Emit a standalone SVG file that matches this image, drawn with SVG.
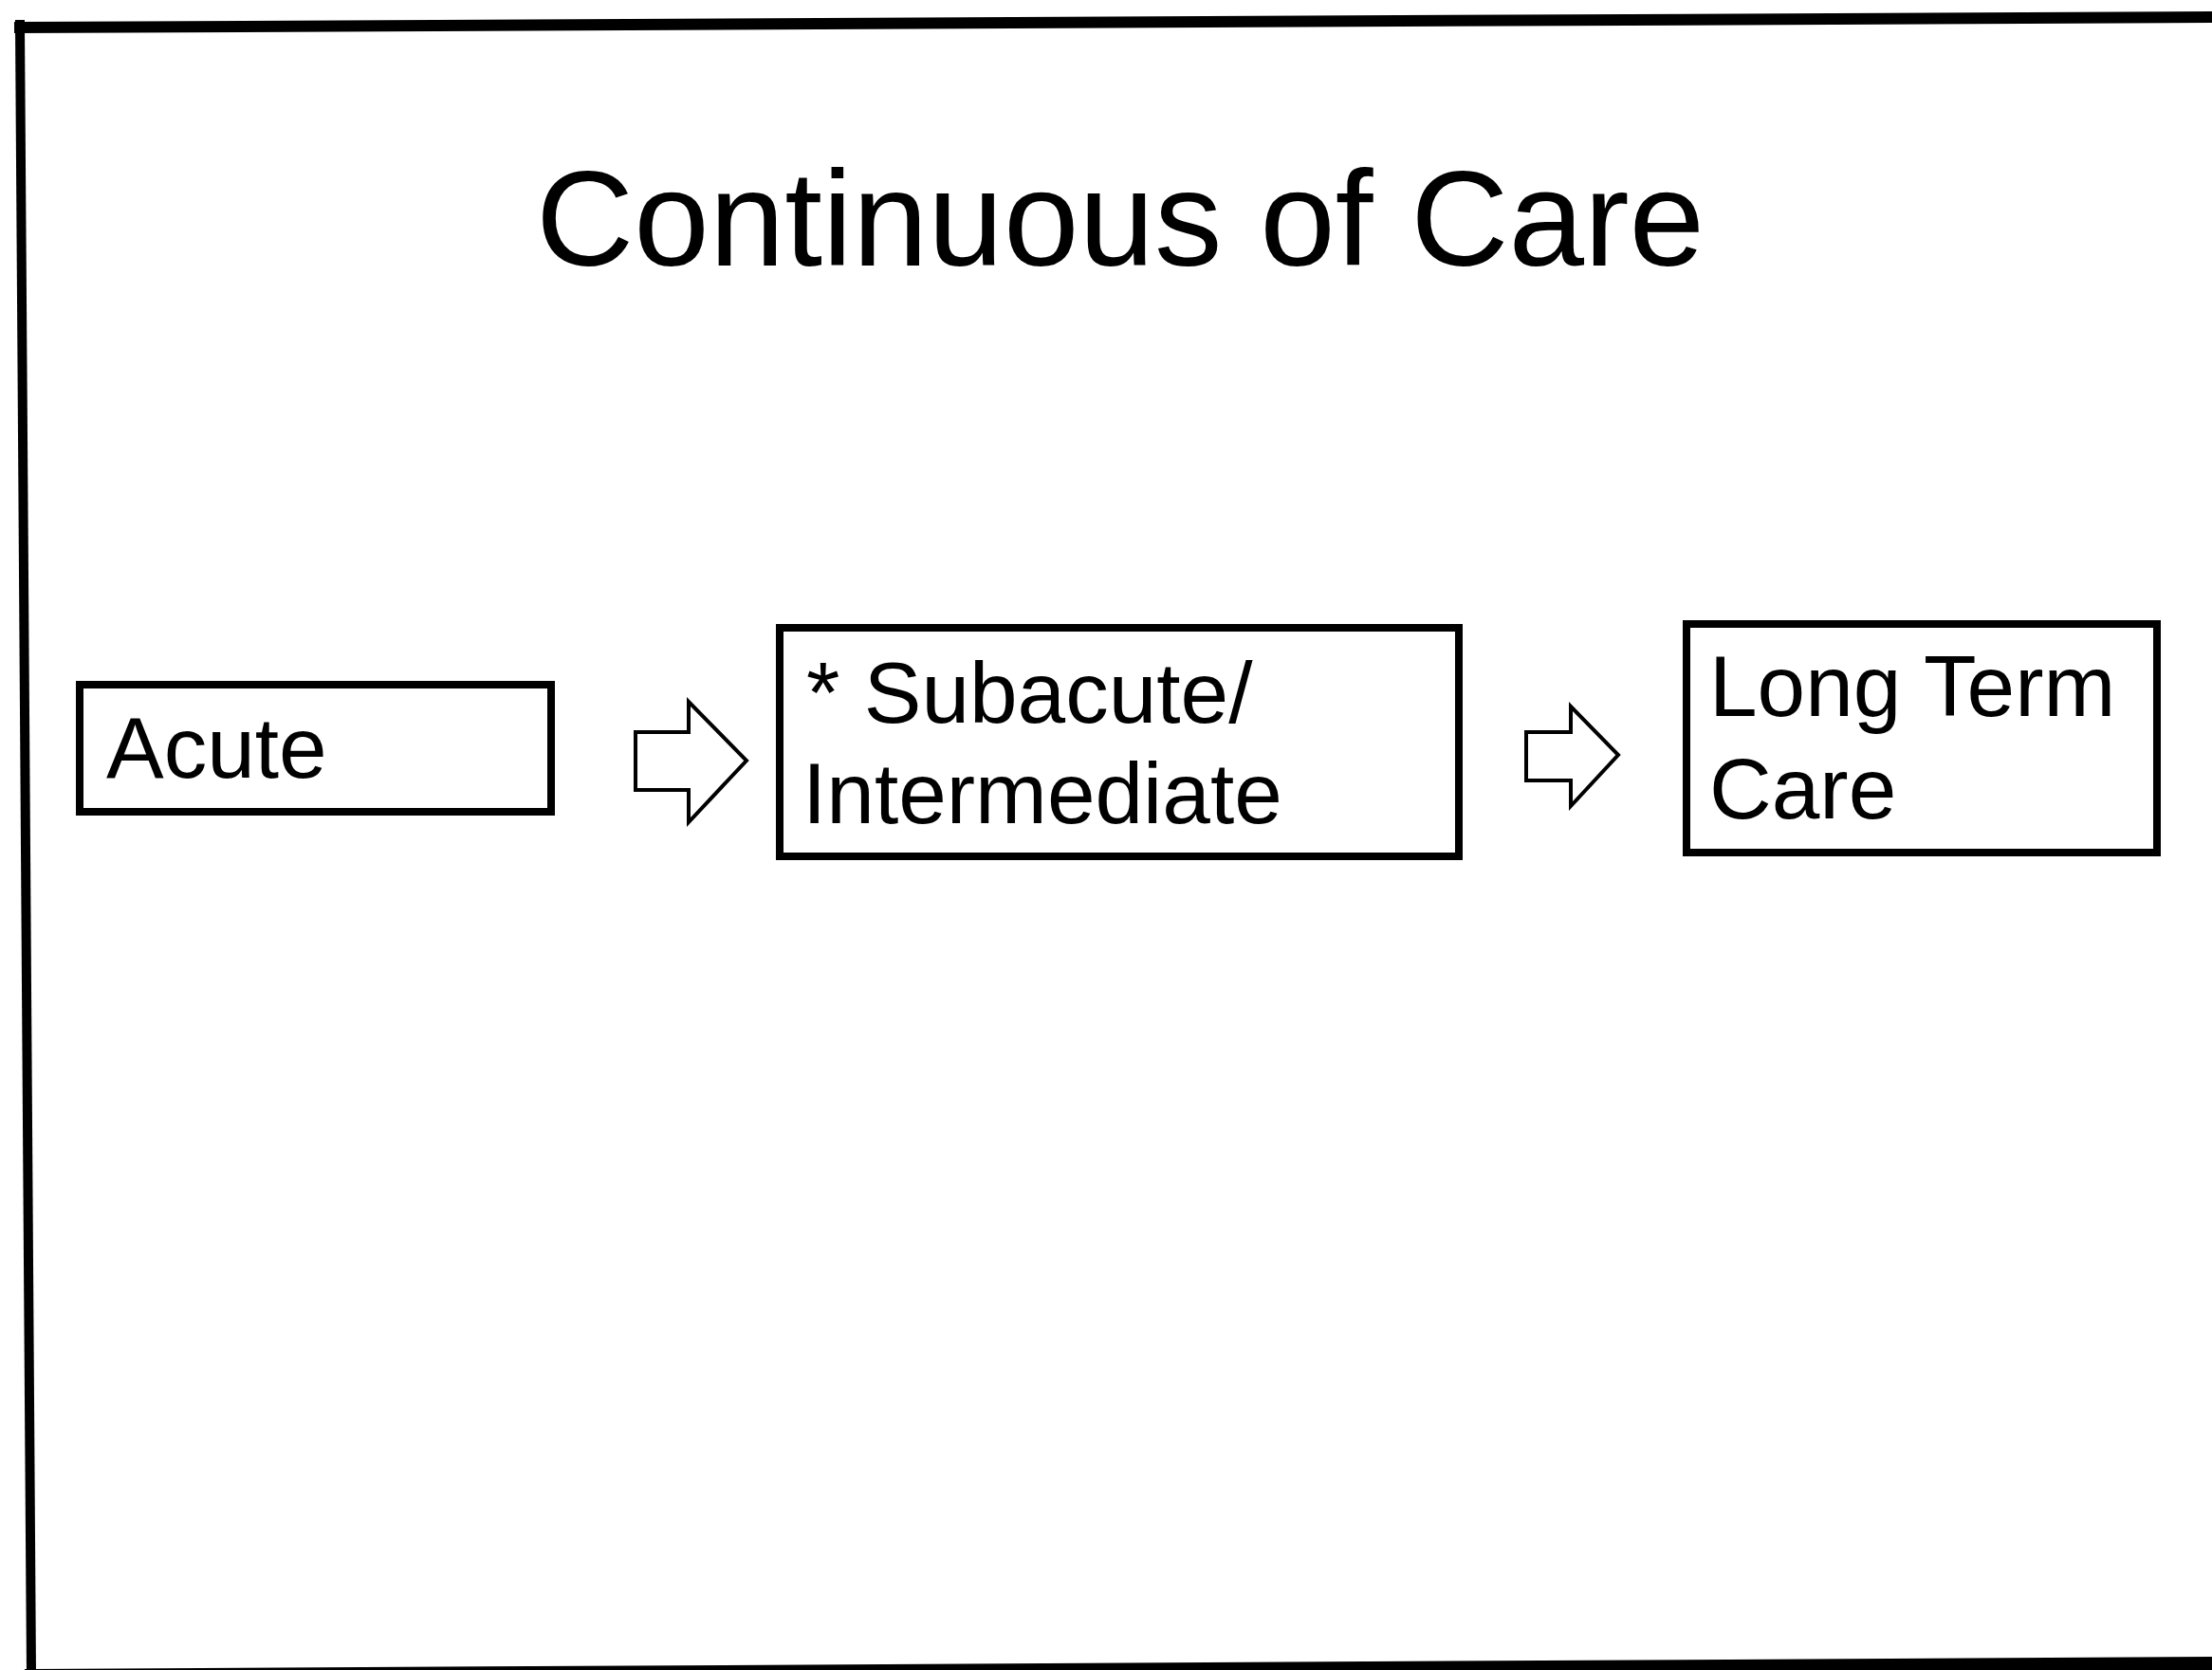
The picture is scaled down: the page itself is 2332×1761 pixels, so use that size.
<svg xmlns="http://www.w3.org/2000/svg" width="2332" height="1761" viewBox="0 0 2332 1761">
<style>
.frame{stroke:#000;fill:none;stroke-linecap:square}
.box{fill:#fff;stroke:#000;stroke-width:8}
.lbl{font-family:"Liberation Sans",Arial,sans-serif;font-size:91px;fill:#000}
.title{font-family:"Liberation Sans",Arial,sans-serif;font-size:143px;fill:#000}
.arrow{fill:#fff;stroke:#000;stroke-width:4;stroke-linejoin:miter}
</style>
<rect width="2332" height="1761" fill="#fff"/>
<g id="frame">
<line class="frame" x1="21" y1="29" x2="2340" y2="18" stroke-width="12"/>
<line class="frame" x1="21" y1="26" x2="33" y2="1765" stroke-width="10"/>
<line class="frame" x1="33" y1="1767" x2="2340" y2="1754" stroke-width="14"/>
</g>
<g id="title">
<text class="title" x="565" y="280">Continuous of Care</text>
</g>
<g id="node-acute">
<rect class="box" x="84" y="722" width="497" height="134"/>
<text class="lbl" x="112" y="820">Acute</text>
</g>
<g id="node-subacute">
<rect class="box" x="822" y="662" width="716" height="241"/>
<text class="lbl" x="850" y="762">* Subacute/</text>
<text class="lbl" x="846" y="868">Intermediate</text>
</g>
<g id="node-ltc">
<rect class="box" x="1778" y="658" width="496" height="241"/>
<text class="lbl" x="1802" y="755">Long Term</text>
<text class="lbl" x="1802" y="863">Care</text>
</g>
<g id="connectors">
<polygon class="arrow" points="670,772 726,772 726,740 787,802 726,867 726,833 670,833"/>
<polygon class="arrow" points="1609,772 1656,772 1656,745 1706,796 1656,850 1656,823 1609,823"/>
</g>
</svg>
